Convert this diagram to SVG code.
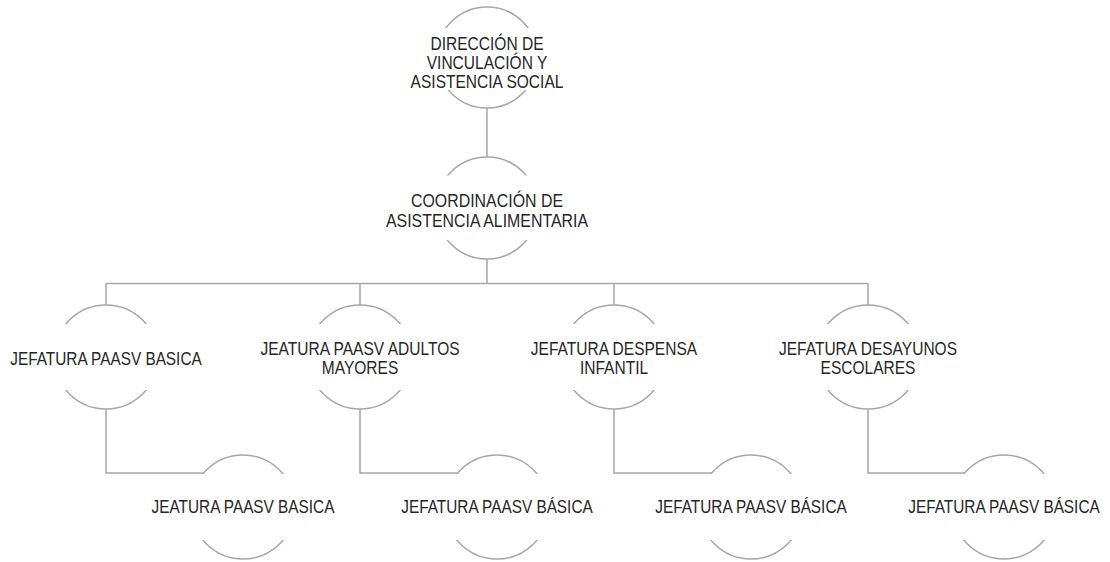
<svg xmlns="http://www.w3.org/2000/svg" width="1110" height="562" viewBox="0 0 1110 562">
<style>
.c{fill:#fff;stroke:#a6a6a6;stroke-width:1.5}
.m{fill:#fff;stroke:none}
.t{font-family:"Liberation Sans",Arial,sans-serif;font-size:18.5px;fill:#262626;text-anchor:middle}
.k{fill:none;stroke:#a6a6a6;stroke-width:1.5}
</style>
<rect width="1110" height="562" fill="#fff"/>
<g id="connectors" class="k">
<path d="M487 108V157"/>
<path d="M487 259V283.5"/>
<path d="M106 283.5H868"/>
<path d="M106 283.5V305M360 283.5V305M614 283.5V305M868 283.5V305"/>
<path d="M106 409V473H203.7"/>
<path d="M360 409V473H457.7"/>
<path d="M614 409V473H711.7"/>
<path d="M868 409V473H965.7"/>
</g>
<g id="n1">
<circle class="c" cx="487" cy="57.5" r="50.5"/>
<rect class="m" x="417" y="28" width="140" height="62"/>
<g class="t" transform="translate(487,0) scale(0.84,1)">
<text x="0" y="50">DIRECCIÓN DE</text>
<text x="0" y="69">VINCULACIÓN Y</text>
<text x="0" y="88">ASISTENCIA SOCIAL</text>
</g>
</g>
<g id="n2">
<circle class="c" cx="487" cy="208" r="51"/>
<rect class="m" x="417" y="175.5" width="140" height="64.5"/>
<g class="t" transform="translate(487,0) scale(0.86,1)">
<text x="0" y="207">COORDINACIÓN DE</text>
<text x="0" y="227">ASISTENCIA ALIMENTARIA</text>
</g>
</g>
<g id="n3a">
<circle class="c" cx="106" cy="357" r="52"/>
<rect class="m" x="46" y="324" width="120" height="66"/>
<text class="t" transform="translate(106,0) scale(0.83,1)" x="0" y="365">JEFATURA PAASV BASICA</text>
</g>
<g id="n3b">
<circle class="c" cx="360" cy="357" r="52"/>
<rect class="m" x="300" y="324" width="120" height="66"/>
<g class="t" transform="translate(360,0) scale(0.84,1)">
<text x="0" y="355">JEATURA PAASV ADULTOS</text>
<text x="0" y="374">MAYORES</text>
</g>
</g>
<g id="n3c">
<circle class="c" cx="614" cy="357" r="52"/>
<rect class="m" x="554" y="324" width="120" height="66"/>
<g class="t" transform="translate(614,0) scale(0.84,1)">
<text x="0" y="355">JEFATURA DESPENSA</text>
<text x="0" y="374">INFANTIL</text>
</g>
</g>
<g id="n3d">
<circle class="c" cx="868" cy="357" r="52"/>
<rect class="m" x="808" y="324" width="120" height="66"/>
<g class="t" transform="translate(868,0) scale(0.84,1)">
<text x="0" y="355">JEFATURA DESAYUNOS</text>
<text x="0" y="374">ESCOLARES</text>
</g>
</g>
<g id="n4a">
<circle class="c" cx="243" cy="507" r="52"/>
<rect class="m" x="183" y="474" width="120" height="66"/>
<text class="t" transform="translate(243,0) scale(0.83,1)" x="0" y="513">JEATURA PAASV BASICA</text>
</g>
<g id="n4b">
<circle class="c" cx="497" cy="507" r="52"/>
<rect class="m" x="437" y="474" width="120" height="66"/>
<text class="t" transform="translate(497,0) scale(0.83,1)" x="0" y="513">JEFATURA PAASV BÁSICA</text>
</g>
<g id="n4c">
<circle class="c" cx="751" cy="507" r="52"/>
<rect class="m" x="691" y="474" width="120" height="66"/>
<text class="t" transform="translate(751,0) scale(0.83,1)" x="0" y="513">JEFATURA PAASV BÁSICA</text>
</g>
<g id="n4d">
<circle class="c" cx="1004" cy="507" r="52"/>
<rect class="m" x="944" y="474" width="120" height="66"/>
<text class="t" transform="translate(1004,0) scale(0.83,1)" x="0" y="513">JEFATURA PAASV BÁSICA</text>
</g>
</svg>
